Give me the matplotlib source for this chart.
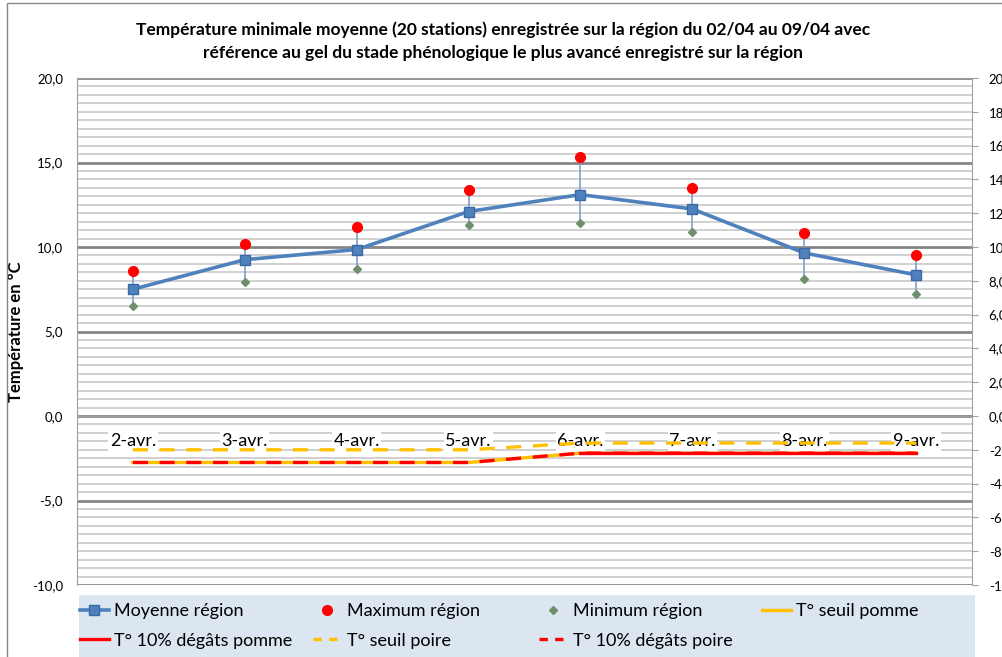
import numpy as np
import matplotlib
matplotlib.use("Agg")
import matplotlib.pyplot as plt
from matplotlib.lines import Line2D
from matplotlib.patches import Rectangle
from matplotlib.ticker import FuncFormatter, MultipleLocator

plt.rcParams['font.family'] = ['Lato', 'DejaVu Sans']

# Data
days = ["2-avr.", "3-avr.", "4-avr.", "5-avr.", "6-avr.", "7-avr.", "8-avr.", "9-avr."]
moyenne = [7.5, 9.25, 9.85, 12.1, 13.1, 12.25, 9.65, 8.35]
maximum = [8.6, 10.2, 11.2, 13.4, 15.3, 13.5, 10.8, 9.5]
minimum = [6.5, 7.9, 8.7, 11.3, 11.4, 10.9, 8.1, 7.2]
seuil_pomme = [-2.75, -2.75, -2.75, -2.75, -2.2, -2.2, -2.2, -2.2]
degats_pomme = [np.nan, np.nan, np.nan, np.nan, -2.2, -2.2, -2.2, -2.2]
seuil_poire = [-2.0, -2.0, -2.0, -2.0, -1.6, -1.6, -1.6, -1.6]
degats_poire = [-2.75, -2.75, -2.75, -2.75, -2.2, -2.2, -2.2, -2.2]

blue = '#4F81BD'
yellow = '#FFC000'
red = '#FF0000'
green = '#6F8F6F'

W, H = 1002, 657
fig = plt.figure(figsize=(W / 100, H / 100), dpi=100)
ax = fig.add_axes([77 / W, (H - 585) / H, (972 - 77) / W, (585 - 78) / H])

x = np.arange(len(days)) + 0.5
ax.set_xlim(0, len(days))
ax.set_ylim(-10, 20)

# Grid lines
ax.yaxis.set_major_locator(MultipleLocator(5))
ax.yaxis.set_minor_locator(MultipleLocator(0.5))
ax.grid(which='major', axis='y', color='#868686', lw=2.0)
ax.grid(which='minor', axis='y', color='#C8C8C8', lw=1.2)
ax.set_axisbelow(True)
ax.tick_params(axis='y', which='both', length=0, pad=10, labelsize=9.5)
ax.yaxis.set_major_formatter(FuncFormatter(lambda v, p: f"{v:.1f}".replace('.', ',')))
ax.set_xticks([])

for s in ['top', 'left', 'right']:
    ax.spines[s].set_color('#A0A0A0')
ax.spines['bottom'].set_position(('data', 0))
ax.spines['bottom'].set_color('#A0A0A0')

ax.set_ylabel("Température en °C", fontsize=12, fontweight='bold')
ax.yaxis.set_label_coords((24 - 77) / (972 - 77), 0.5)

# Category labels along y=0
for xi, d in zip(x, days):
    ax.annotate(d, (xi, 0), xytext=(0, -12.5), textcoords='offset points',
                ha='center', va='top', fontsize=13, zorder=2.5,
                bbox=dict(facecolor='white', edgecolor='none', pad=1))

# Range bars and markers
ax.vlines(x, minimum, maximum, color='#7FA0CC', lw=1.2, zorder=3)
ax.plot(x, moyenne, color=blue, lw=2.6, marker='s', ms=7, mfc=blue, mec='#3A6AA5', zorder=4)
ax.plot(x, maximum, ls='none', marker='o', ms=7, color=red, zorder=5)
ax.plot(x, minimum, ls='none', marker='D', ms=4.5, color=green, zorder=5)

# Frost thresholds
ax.plot(x, seuil_pomme, color=yellow, lw=2.4, zorder=3)
ax.plot(x, degats_pomme, color=red, lw=2.4, zorder=3)
ax.plot(x, seuil_poire, color=yellow, lw=2.4, dashes=(4.5, 3.5), zorder=3)
ax.plot(x, degats_poire, color=red, lw=2.4, dashes=(4.5, 3.5), zorder=3)

# Right axis
ax2 = ax.twinx()
ax2.set_ylim(-10, 20)
ax2.yaxis.set_major_locator(MultipleLocator(2))
ax2.yaxis.set_major_formatter(FuncFormatter(lambda v, p: f"{v:.1f}".replace('.', ',')))
ax2.tick_params(axis='y', length=4, color='#A0A0A0', labelsize=9.5, pad=8)
for s in ax2.spines.values():
    s.set_visible(False)

fig.suptitle("Température minimale moyenne (20 stations) enregistrée sur la région du 02/04 au 09/04 avec\n"
             "référence au gel du stade phénologique le plus avancé enregistré sur la région",
             fontsize=12.5, fontweight='bold', x=503 / W, y=1 - 21 / H, va='top', linespacing=1.55)

# Legend background
fig.patches.append(Rectangle((79 / W, -0.05), (975 - 79) / W, 0.05 + (H - 595) / H,
                             transform=fig.transFigure, facecolor='#DCE6F1', edgecolor='none'))

# Legend, one column at a time so columns sit at fixed positions
h_moy = Line2D([], [], color=blue, lw=2.6, marker='s', ms=7, mec='#3A6AA5')
h_max = Line2D([], [], ls='none', marker='o', ms=7, color=red)
h_min = Line2D([], [], ls='none', marker='D', ms=4.5, color=green)
h_sp = Line2D([], [], color=yellow, lw=2.4)
h_dp = Line2D([], [], color=red, lw=2.4)
h_spo = Line2D([], [], color=yellow, lw=2.4, dashes=(2.5, 2.2))
h_dpo = Line2D([], [], color=red, lw=2.4, dashes=(2.5, 2.2))
legend_cols = [
    (80, [h_moy, h_dp], ["Moyenne région", "T° 10% dégâts pomme"]),
    (313, [h_max, h_spo], ["Maximum région", "T° seuil poire"]),
    (539, [h_min, h_dpo], ["Minimum région", "T° 10% dégâts poire"]),
    (762, [h_sp], ["T° seuil pomme"]),
]
for xl, hs, ls in legend_cols:
    fig.legend(hs, ls, loc='upper left', bbox_to_anchor=(xl / W, 1 - 603 / H),
               fontsize=13, frameon=False, handlelength=1.6, handletextpad=0.3,
               borderpad=0, borderaxespad=0, labelspacing=0.75)

# Chart outer border
fig.patches.append(Rectangle((7 / W, -0.05), 1.2, 1 - 3 / H + 0.05, transform=fig.transFigure,
                             fill=False, edgecolor='#888888', lw=1))

fig.savefig("out.png", dpi=100)
